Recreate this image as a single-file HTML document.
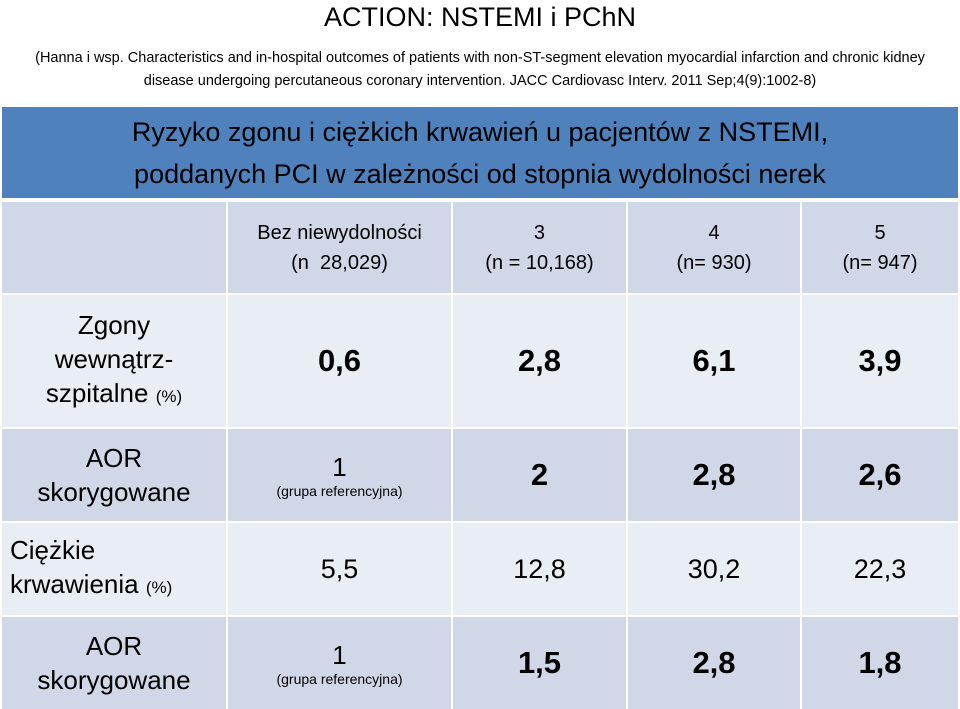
<!DOCTYPE html>
<html><head><meta charset="utf-8">
<style>
body{margin:0;width:960px;height:709px;background:#fff;font-family:"Liberation Sans",sans-serif;overflow:hidden;position:relative}
.a{position:absolute;box-sizing:border-box;display:flex;flex-direction:column;align-items:center;justify-content:center;text-align:center;color:#000}
.d{background:#d0d8e8}.l{background:#e9edf4}
.big{font-size:31px;font-weight:bold}
.lab{font-size:26px;line-height:34px}
.hd{font-size:20px;line-height:30px}
.sm{font-size:14px}
</style></head><body>
<div class="a" style="left:0;top:0;width:960px;height:34px;font-size:27px">ACTION: NSTEMI i PChN</div>
<div class="a" style="left:20px;top:36px;width:920px;height:68px;font-size:14.5px;line-height:23px">(Hanna i wsp. Characteristics and in-hospital outcomes of patients with non-ST-segment elevation myocardial infarction and chronic kidney disease undergoing percutaneous coronary intervention. JACC Cardiovasc Interv. 2011 Sep;4(9):1002-8)</div>
<div class="a" style="left:2px;top:107px;width:956px;height:91px;background:#4f81bd;font-size:27px;line-height:42px">Ryzyko zgonu i ciężkich krwawień u pacjentów z NSTEMI,<br>poddanych PCI w zależności od stopnia wydolności nerek</div>
<div class="a d" style="left:2px;top:202px;width:224px;height:91px"></div>
<div class="a d hd" style="left:228px;top:202px;width:223px;height:91px">Bez niewydolności<br>(n&nbsp; 28,029)</div>
<div class="a d hd" style="left:453px;top:202px;width:173px;height:91px">3<br>(n = 10,168)</div>
<div class="a d hd" style="left:628px;top:202px;width:172px;height:91px">4<br>(n= 930)</div>
<div class="a d hd" style="left:802px;top:202px;width:156px;height:91px">5<br>(n= 947)</div>

<div class="a l lab" style="left:2px;top:295px;width:224px;height:132px">Zgony<br>wewnątrz-<br><span>szpitalne <span style="font-size:17px">(%)</span></span></div>
<div class="a l big" style="left:228px;top:295px;width:223px;height:132px">0,6</div>
<div class="a l big" style="left:453px;top:295px;width:173px;height:132px">2,8</div>
<div class="a l big" style="left:628px;top:295px;width:172px;height:132px">6,1</div>
<div class="a l big" style="left:802px;top:295px;width:156px;height:132px">3,9</div>

<div class="a d lab" style="left:2px;top:429px;width:224px;height:92px">AOR<br>skorygowane</div>
<div class="a d" style="left:228px;top:429px;width:223px;height:92px"><span style="font-size:26px">1</span><span class="sm">(grupa referencyjna)</span></div>
<div class="a d big" style="left:453px;top:429px;width:173px;height:92px">2</div>
<div class="a d big" style="left:628px;top:429px;width:172px;height:92px">2,8</div>
<div class="a d big" style="left:802px;top:429px;width:156px;height:92px">2,6</div>

<div class="a l lab" style="left:2px;top:523px;width:224px;height:92px;align-items:flex-start;padding-left:8px;text-align:left">Ciężkie<br><span>krwawienia <span style="font-size:17px">(%)</span></span></div>
<div class="a l" style="left:228px;top:523px;width:223px;height:92px;font-size:27px">5,5</div>
<div class="a l" style="left:453px;top:523px;width:173px;height:92px;font-size:27px">12,8</div>
<div class="a l" style="left:628px;top:523px;width:172px;height:92px;font-size:27px">30,2</div>
<div class="a l" style="left:802px;top:523px;width:156px;height:92px;font-size:27px">22,3</div>

<div class="a d lab" style="left:2px;top:617px;width:224px;height:92px">AOR<br>skorygowane</div>
<div class="a d" style="left:228px;top:617px;width:223px;height:92px"><span style="font-size:26px">1</span><span class="sm">(grupa referencyjna)</span></div>
<div class="a d big" style="left:453px;top:617px;width:173px;height:92px">1,5</div>
<div class="a d big" style="left:628px;top:617px;width:172px;height:92px">2,8</div>
<div class="a d big" style="left:802px;top:617px;width:156px;height:92px">1,8</div>
</body></html>
